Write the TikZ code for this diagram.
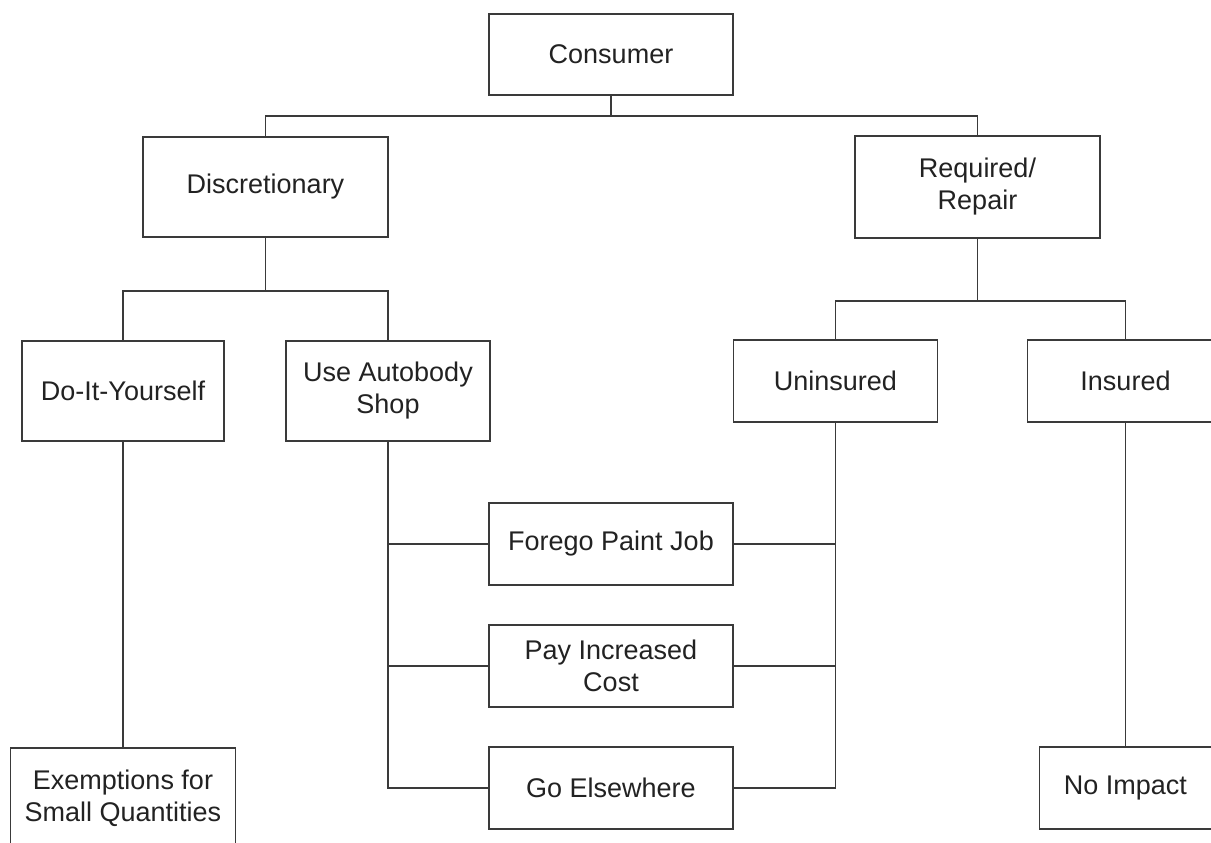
\documentclass[tikz,border=0pt]{standalone}
\usepackage{fontspec}
\setmainfont{Liberation Sans}
\definecolor{linec}{HTML}{3A3A3A}
\definecolor{textc}{HTML}{222222}
\begin{document}
\begin{tikzpicture}[x=1pt,y=-1pt,
  box/.style={draw=linec, line width=1.5pt, fill=white, inner sep=0pt, align=center,
    font=\fontsize{27}{32}\selectfont, text=textc},
  conn/.style={draw=linec, line width=1.5pt}]
\useasboundingbox (0,0) rectangle (1211,843);
\clip (0,0) rectangle (1211,843);
% nodes
\node[box, minimum width=244pt, minimum height=81pt] (cons) at (611,54.5) {Consumer};
\node[box, minimum width=245pt, minimum height=100pt] (disc) at (265.5,187) {Discretionary};
\node[box, minimum width=245pt, minimum height=102pt] (req) at (977.5,187) {Required/\\Repair};
\node[box, minimum width=202pt, minimum height=100pt] (diy) at (123,391) {Do-It-Yourself};
\node[box, minimum width=204pt, minimum height=100pt] (shop) at (388,391) {Use Autobody\\Shop};
\node[box, minimum width=204pt, minimum height=82pt] (unins) at (835.5,381) {Uninsured};
\node[box, minimum width=196pt, minimum height=82pt] (ins) at (1125.5,381) {Insured};
\node[box, minimum width=244pt, minimum height=82pt] (forego) at (611,544) {Forego Paint Job};
\node[box, minimum width=244pt, minimum height=82pt] (pay) at (611,666) {Pay Increased\\Cost};
\node[box, minimum width=244pt, minimum height=82pt] (go) at (611,788) {Go Elsewhere};
\node[box, minimum width=225pt, minimum height=100pt] (exem) at (123,798) {Exemptions for\\Small Quantities};
\node[box, minimum width=172pt, minimum height=82pt] (noimp) at (1125.5,788) {No Impact};
% junctions
\coordinate (j1) at (611,116);
\coordinate (j2) at (265.5,291);
\coordinate (j3) at (977.5,301);
% connectors
\draw[conn] (cons.south) -- (j1);
\draw[conn] (disc.north) |- (j1) -| (req.north);
\draw[conn] (disc.south) -- (j2);
\draw[conn] (diy.north) |- (j2) -| (shop.north);
\draw[conn] (req.south) -- (j3);
\draw[conn] (unins.north) |- (j3) -| (ins.north);
\draw[conn] (diy.south) -- (exem.north);
\draw[conn] (ins.south) -- (noimp.north);
\draw[conn] (shop.south) |- (forego.west);
\draw[conn] (shop.south) |- (pay.west);
\draw[conn] (shop.south) |- (go.west);
\draw[conn] (unins.south) |- (forego.east);
\draw[conn] (unins.south) |- (pay.east);
\draw[conn] (unins.south) |- (go.east);
\end{tikzpicture}
\end{document}
